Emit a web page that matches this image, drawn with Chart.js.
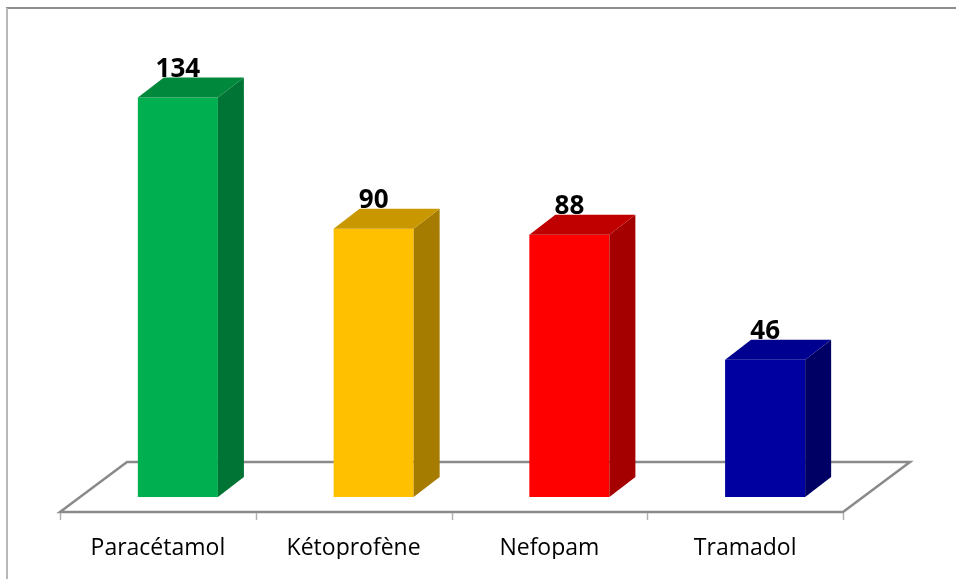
<!DOCTYPE html>
<html><head><meta charset="utf-8">
<script src="https://cdn.jsdelivr.net/npm/chart.js@4"></script>
<style>html,body{margin:0;padding:0;background:#fff}#wrap{width:956px;height:579px;position:relative}</style>
</head><body><div id="wrap"><canvas id="c" width="956" height="579"></canvas></div>
<script>
const categories = ['Paracétamol', 'Kétoprofène', 'Nefopam', 'Tramadol'];
const counts = [134, 90, 88, 46];
const yTicksMax = 160;

const frontColors = ['#00B050', '#FFC000', '#FF0000', '#0000A0'];
const topColors = ['#00883C', '#C99700', '#C00000', '#000090'];
const sideColors = ['#007434', '#A57C00', '#A50000', '#000064'];

const DEPTH_X = 26, DEPTH_Y = 20, SHIFT = 20;
const FLOOR_FRONT = 15, FLOOR_BACK = 35, FLOOR_DX = 67;

const threeD = {
  id: 'threeD',
  beforeDraw(chart) {
    const ctx = chart.ctx;
    ctx.save();
    ctx.fillStyle = '#fff';
    ctx.fillRect(0, 0, chart.width, chart.height);
    ctx.lineWidth = 2;
    ctx.strokeStyle = '#8e8e8e';
    ctx.beginPath(); ctx.moveTo(6, 8); ctx.lineTo(chart.width, 8); ctx.stroke();
    ctx.strokeStyle = '#b8b8b8';
    ctx.beginPath(); ctx.moveTo(7, 8); ctx.lineTo(7, chart.height); ctx.stroke();
    ctx.restore();
  },
  beforeDatasetsDraw(chart) {
    const ctx = chart.ctx;
    const a = chart.chartArea;
    const base = chart.scales.y.getPixelForValue(0);
    const yf = base + FLOOR_FRONT, yb = base - FLOOR_BACK;
    ctx.save();
    ctx.strokeStyle = '#8a8a8a';
    ctx.lineWidth = 2.5;
    ctx.lineJoin = 'miter';
    ctx.beginPath();
    ctx.moveTo(a.left, yf);
    ctx.lineTo(a.left + FLOOR_DX, yb);
    ctx.lineTo(a.right + FLOOR_DX, yb);
    ctx.lineTo(a.right, yf);
    ctx.closePath();
    ctx.stroke();
    ctx.strokeStyle = '#b0b0b0';
    ctx.lineWidth = 1.5;
    const n = categories.length;
    for (let i = 0; i <= n; i++) {
      const x = Math.round(a.left + i * (a.right - a.left) / n) + 0.5;
      ctx.beginPath(); ctx.moveTo(x, yf + 1); ctx.lineTo(x, yf + 8); ctx.stroke();
    }
    ctx.restore();
    ctx.save();
    ctx.translate(SHIFT, 0);
  },
  afterDatasetsDraw(chart) {
    const ctx = chart.ctx;
    const meta = chart.getDatasetMeta(0);
    meta.data.forEach((bar, i) => {
      const x0 = bar.x - bar.width / 2, x1 = bar.x + bar.width / 2;
      const top = bar.y, base = bar.base;
      ctx.fillStyle = sideColors[i];
      ctx.beginPath();
      ctx.moveTo(x1, top); ctx.lineTo(x1 + DEPTH_X, top - DEPTH_Y);
      ctx.lineTo(x1 + DEPTH_X, base - DEPTH_Y); ctx.lineTo(x1, base);
      ctx.closePath(); ctx.fill();
      ctx.fillStyle = topColors[i];
      ctx.beginPath();
      ctx.moveTo(x0, top); ctx.lineTo(x0 + DEPTH_X, top - DEPTH_Y);
      ctx.lineTo(x1 + DEPTH_X, top - DEPTH_Y); ctx.lineTo(x1, top);
      ctx.closePath(); ctx.fill();
      ctx.fillStyle = '#000';
      ctx.font = 'bold 26px "Open Sans"';
      ctx.textAlign = 'center';
      ctx.textBaseline = 'alphabetic';
      ctx.fillText(String(counts[i]), bar.x, top - DEPTH_Y - 1);
    });
    ctx.restore();
  }
};

new Chart(document.getElementById('c'), {
  type: 'bar',
  data: {
    labels: categories,
    datasets: [{
      data: counts,
      backgroundColor: frontColors,
      borderWidth: 0,
      categoryPercentage: 1,
      barPercentage: 0.409,
      clip: false
    }]
  },
  options: {
    responsive: false,
    animation: false,
    events: [],
    layout: { padding: { left: 60, right: 113, top: 20, bottom: 20 } },
    plugins: { legend: { display: false }, tooltip: { enabled: false } },
    scales: {
      x: {
        grid: { display: false, drawTicks: false },
        border: { display: false },
        ticks: { color: '#000', font: { family: '"Open Sans"', size: 23 }, padding: 38, maxRotation: 0 },
        afterFit(scale) { scale.height = 62; }
      },
      y: {
        display: false,
        min: 0,
        max: yTicksMax
      }
    }
  },
  plugins: [threeD]
});
</script>
</body></html>
